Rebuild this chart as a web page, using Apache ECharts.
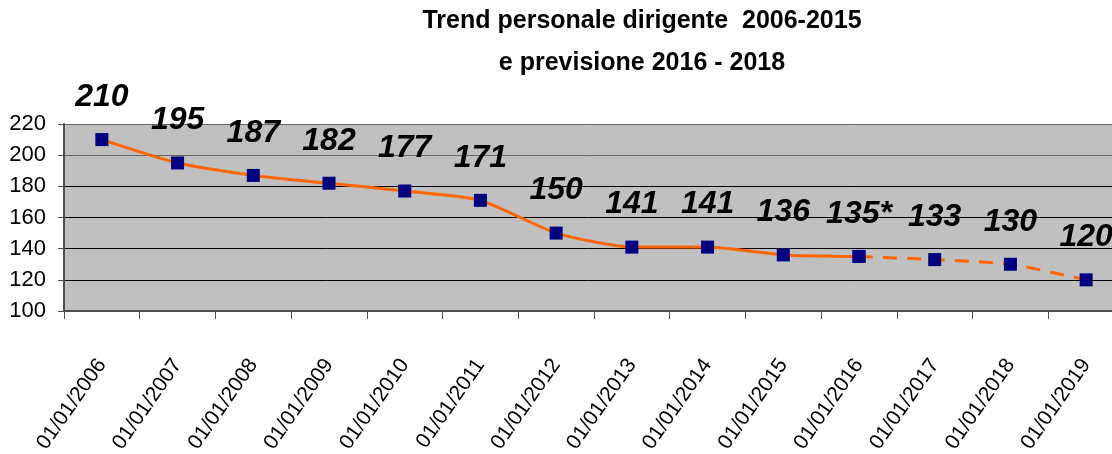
<!DOCTYPE html>
<html>
<head>
<meta charset="utf-8">
<script src="https://cdn.jsdelivr.net/npm/echarts@6/dist/echarts.min.js"></script>
<style>
  html, body { margin: 0; padding: 0; background: #fff; }
  #chart { width: 1112px; height: 454px; }
</style>
</head>
<body>
<div id="chart"></div>
<script>
const categories = ['01/01/2006', '01/01/2007', '01/01/2008', '01/01/2009', '01/01/2010',
  '01/01/2011', '01/01/2012', '01/01/2013', '01/01/2014', '01/01/2015',
  '01/01/2016', '01/01/2017', '01/01/2018', '01/01/2019']
const values = [210, 195, 187, 182, 177, 171, 150, 141, 141, 136, 135, 133, 130, 120]
const pointLabels = ['210', '195', '187', '182', '177', '171', '150', '141', '141', '136', '135*', '133', '130', '120']
const lastActual = 10 // dopo il 2016 la linea è tratteggiata (previsione)

const solid = values.map((v, i) => (i <= lastActual ? v : null))
const dashed = values.map((v, i) => (i >= lastActual ? v : null))

const chart = echarts.init(document.getElementById('chart'))

const labelStyle = {
  show: true,
  position: 'top',
  distance: 20,
  color: '#000',
  fontFamily: 'Liberation Sans, Arial, sans-serif',
  fontSize: 32,
  fontWeight: 'bold',
  fontStyle: 'italic',
  formatter: p => pointLabels[p.dataIndex]
}

chart.setOption({
  animation: false,
  title: {
    text: 'Trend personale dirigente  2006-2015\ne previsione 2016 - 2018',
    left: 637,
    top: -5,
    textAlign: 'center',
    textStyle: {
      fontFamily: 'Liberation Sans, Arial, sans-serif',
      fontSize: 25,
      fontWeight: 'bold',
      color: '#000',
      lineHeight: 42
    }
  },
  grid: {
    left: 64,
    right: -12,
    top: 124,
    bottom: 143,
    outerBoundsMode: 'none',
    show: true,
    backgroundColor: '#c0c0c0',
    borderWidth: 0
  },
  xAxis: {
    type: 'category',
    data: categories,
    boundaryGap: true,
    axisLine: { lineStyle: { color: '#505050', width: 2 } },
    axisTick: { show: true, length: 8, lineStyle: { color: '#505050' } },
    axisLabel: {
      interval: 0,
      rotate: 55,
      margin: 50,
      color: '#000',
      fontFamily: 'Liberation Sans, Arial, sans-serif',
      fontSize: 21
    }
  },
  yAxis: {
    type: 'value',
    min: 100,
    max: 220,
    interval: 20,
    axisLine: { show: true, lineStyle: { color: '#505050', width: 2 } },
    axisTick: { show: true, length: 6, lineStyle: { color: '#505050' } },
    axisLabel: {
      margin: 18,
      color: '#000',
      fontFamily: 'Liberation Sans, Arial, sans-serif',
      fontSize: 22
    },
    splitLine: {
      lineStyle: {
        color: ['#505050', '#000', '#000', '#000', '#000', '#666', '#666'],
        width: 1
      }
    }
  },
  series: [
    {
      type: 'line',
      data: solid,
      smooth: 0.2,
      symbol: 'rect',
      symbolSize: 13,
      itemStyle: { color: '#000080' },
      lineStyle: { color: '#ff6600', width: 3 },
      label: labelStyle
    },
    {
      type: 'line',
      data: dashed,
      smooth: 0.2,
      symbol: 'rect',
      symbolSize: 13,
      itemStyle: { color: '#000080' },
      lineStyle: { color: '#ff6600', width: 3, type: [14, 10] },
      label: Object.assign({}, labelStyle, {
        formatter: p => (p.dataIndex === lastActual ? '' : pointLabels[p.dataIndex])
      })
    }
  ]
})
</script>
</body>
</html>
